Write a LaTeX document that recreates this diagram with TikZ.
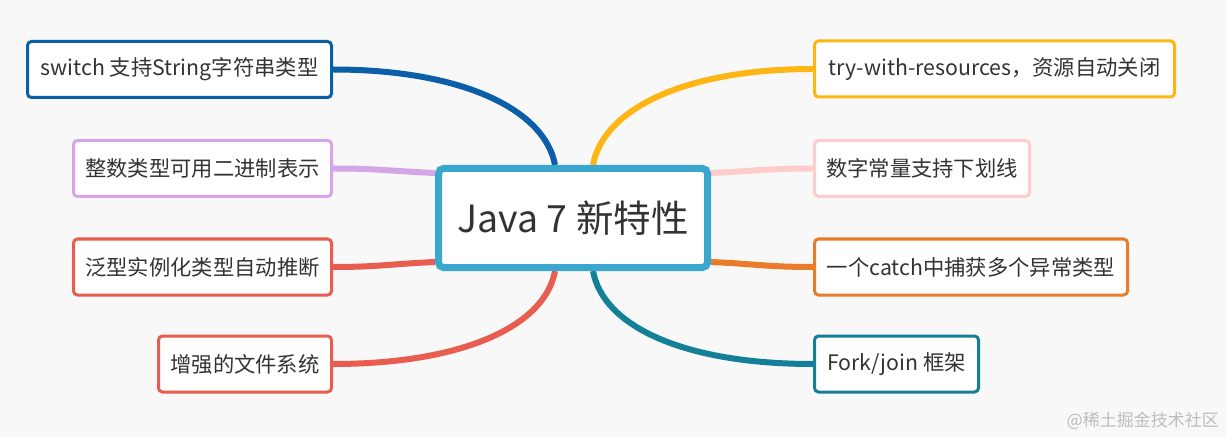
\documentclass[tikz,border=0pt]{standalone}
\usepackage{fontspec}
\newfontfamily\cjk{Noto Sans CJK SC}
\usetikzlibrary{backgrounds}
\definecolor{bgc}{HTML}{F8F8F8}
\definecolor{txt}{HTML}{333333}
\definecolor{cblue}{HTML}{0B5FA8}
\definecolor{cpurple}{HTML}{D4A6E8}
\definecolor{cred}{HTML}{E85D4F}
\definecolor{cyellow}{HTML}{FDB614}
\definecolor{cpink}{HTML}{FFCCCC}
\definecolor{corange}{HTML}{E87C2A}
\definecolor{cteal}{HTML}{137F98}
\definecolor{ccenter}{HTML}{3AA8CE}
\definecolor{wm}{HTML}{BDBDBD}
\tikzset{
  leaf/.style={draw=#1, line width=3pt, fill=white, rounded corners=4pt,
    minimum height=56pt, inner sep=0pt, text=txt,
    font=\cjk\fontsize{21.3}{25}\selectfont},
  hub/.style={draw=ccenter, line width=7pt, fill=white, rounded corners=5pt,
    minimum width=269pt, minimum height=99pt, inner sep=0pt, text=txt,
    font=\cjk\fontsize{37.5}{44}\selectfont},
  branch/.style={draw=#1, line width=6pt},
  mark text/.style={text=wm, font=\cjk\fontsize{17}{20}\selectfont, inner sep=0pt}
}
\begin{document}
\begin{tikzpicture}[x=1pt,y=1pt]
\useasboundingbox (0,0) rectangle (1226,437);
\node[hub] (c) at (573,219) {Java 7 新特性};
\node[leaf=cblue, minimum width=304pt] (sw) at (179.5,367.5) {switch 支持String字符串类型};
\node[leaf=cpurple, minimum width=258pt] (zs) at (202.5,268.5) {整数类型可用二进制表示};
\node[leaf=cred, minimum width=258pt] (fx) at (202.5,170) {泛型实例化类型自动推断};
\node[leaf=cred, minimum width=173pt] (zq) at (245,73) {增强的文件系统};
\node[leaf=cyellow, minimum width=360pt] (try) at (994.5,368) {try-with-resources，资源自动关闭};
\node[leaf=cpink, minimum width=215pt] (sz) at (922,268.5) {数字常量支持下划线};
\node[leaf=corange, minimum width=313pt] (ct) at (971,170) {一个catch中捕获多个异常类型};
\node[leaf=cteal, minimum width=164pt] (fj) at (896.5,73) {Fork/join 框架};
\node[mark text, anchor=east] (wmk) at (1219,16) {@稀土掘金技术社区};
\begin{pgfonlayer}{background}
\fill[bgc] (0,0) rectangle (1226,437);
\draw[branch=cblue] (sw.east) .. controls +(130,0) and +(-10,55) .. ([xshift=-18pt]c.north);
\draw[branch=cred] (zq.east) .. controls +(130,0) and +(-10,-55) .. ([xshift=-18pt]c.south);
\draw[branch=cyellow] (try.west) .. controls +(-130,0) and +(10,55) .. ([xshift=20pt]c.north);
\draw[branch=cteal] (fj.west) .. controls +(-130,0) and +(10,-55) .. ([xshift=20pt]c.south);
\draw[branch=cpurple] (zs.east) .. controls +(45,0) and +(-45,2) .. ([yshift=45pt]c.west);
\draw[branch=cred] (fx.east) .. controls +(45,0) and +(-45,-2) .. ([yshift=-44pt]c.west);
\draw[branch=cpink] (sz.west) .. controls +(-45,0) and +(45,2) .. ([yshift=45pt]c.east);
\draw[branch=corange] (ct.west) .. controls +(-45,0) and +(45,-2) .. ([yshift=-44pt]c.east);
\end{pgfonlayer}
\end{tikzpicture}
\end{document}
